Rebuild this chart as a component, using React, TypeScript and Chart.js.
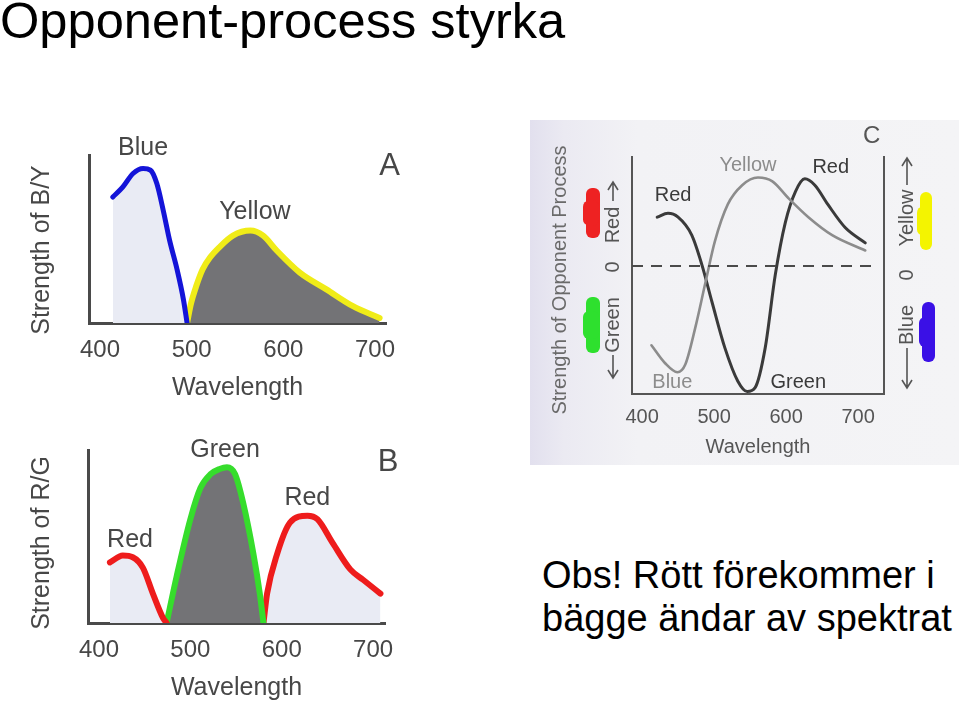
import React, { useEffect, useRef } from 'react';
import { Chart, registerables } from 'chart.js';

Chart.register(...registerables);

const FONT = "'Liberation Sans', Arial, Helvetica, sans-serif";

// ---------- Data ----------
const wavelengthTicks = [400, 500, 600, 700];

// Panel A: Blue / Yellow
const blueA_x = [414, 425, 436, 447, 455, 462, 469, 476, 484, 491, 495];
const blueA_y = [75, 81, 89, 92, 91, 83, 67, 49, 32, 14, 0];
const yellowA_x = [495, 499, 505, 512, 520, 530, 545, 564, 578, 593, 618, 647, 676, 705];
const yellowA_y = [0, 11, 22, 32, 39, 45, 52, 55, 52, 43, 30, 20, 10, 3];

// Panel B: Red / Green / Red
const red1B_x = [412, 426, 437, 448, 459, 470, 474];
const red1B_y = [35, 39, 38, 32, 17, 3, 0];
const greenB_x = [474, 485, 500, 511, 522, 532, 540, 549, 558, 569, 576, 580];
const greenB_y = [0, 27, 60, 78, 86, 89, 90, 86, 69, 40, 17, 0];
const red2B_x = [580, 584, 595, 609, 628, 639, 656, 675, 689, 708];
const red2B_y = [0, 17, 40, 58, 62, 60, 46, 31, 25, 17];

// Panel C: opponent process curves
const redGreenC_x = [421, 436, 450, 469, 483, 497, 515, 533, 546, 557, 571, 585, 599, 613, 626, 640, 658, 682, 710];
const redGreenC_y = [38, 41, 38, 24, 1, -28, -64, -90, -98, -95, -64, -7, 34, 58, 68, 63, 48, 30, 18];
const yellowBlueC_x = [413, 432, 449, 460, 474, 488, 501, 519, 539, 561, 581, 603, 631, 664, 710];
const yellowBlueC_y = [-62, -76, -83, -77, -48, -13, 19, 48, 63, 69, 66, 53, 38, 24, 12];
const zeroC_x = [386, 721];
const zeroC_y = [0, 0];

const pts = (xs: number[], ys: number[]) => xs.map((x, i) => ({ x, y: ys[i] }));

// ---------- Helpers ----------
type TextItem = {
  text: string;
  x: number;
  y: number;
  size: number;
  color: string;
  data?: boolean;
  rot?: number;
};

function textPlugin(items: TextItem[]) {
  return {
    id: 'panelText',
    afterDraw(chart: any) {
      const ctx = chart.ctx;
      const sx = chart.scales.x;
      const sy = chart.scales.y;
      for (const it of items) {
        ctx.save();
        ctx.font = `${it.size}px ${FONT}`;
        ctx.fillStyle = it.color;
        ctx.textAlign = 'center';
        ctx.textBaseline = 'middle';
        const px = it.data ? sx.getPixelForValue(it.x) : it.x;
        const py = it.data ? sy.getPixelForValue(it.y) : it.y;
        ctx.translate(px, py);
        if (it.rot) ctx.rotate(it.rot);
        ctx.fillText(it.text, 0, 0);
        ctx.restore();
      }
    },
  };
}

function lineDs(data: any[], color: string, width: number, fillColor?: string, extra: any = {}) {
  return {
    data,
    borderColor: color,
    borderWidth: width,
    backgroundColor: fillColor || 'transparent',
    fill: fillColor ? 'origin' : false,
    pointRadius: 0,
    cubicInterpolationMode: 'monotone',
    borderCapStyle: 'round',
    borderJoinStyle: 'round',
    ...extra,
  };
}

function panelOptions(p: {
  xmin: number; xmax: number; ymin: number; ymax: number;
  yWidth: number; xHeight: number; padRight: number; padTop: number;
  tickSize: number; tickPad: number; tickColor: string;
  titleSize: number; titlePad: number; axisColor: string; axisWidth: number;
  y2Width?: number;
}) {
  const scales: any = {
    x: {
      type: 'linear',
      min: p.xmin,
      max: p.xmax,
      afterBuildTicks: (s: any) => { s.ticks = wavelengthTicks.map((v) => ({ value: v })); },
      afterFit: (s: any) => { s.height = p.xHeight; },
      grid: { display: false, drawTicks: false },
      border: { display: true, color: p.axisColor, width: p.axisWidth },
      ticks: {
        color: p.tickColor,
        padding: p.tickPad,
        maxRotation: 0,
        autoSkip: false,
        font: { family: FONT, size: p.tickSize },
        callback: (v: any) => String(v),
      },
      title: {
        display: true,
        text: 'Wavelength',
        color: p.tickColor,
        font: { family: FONT, size: p.titleSize },
        padding: { top: 0, bottom: p.titlePad },
      },
    },
    y: {
      type: 'linear',
      min: p.ymin,
      max: p.ymax,
      afterFit: (s: any) => { s.width = p.yWidth; },
      grid: { display: false, drawTicks: false },
      border: { display: true, color: p.axisColor, width: p.axisWidth },
      ticks: { display: false },
    },
  };
  if (p.y2Width) {
    scales.y2 = {
      type: 'linear',
      position: 'right',
      display: true,
      min: p.ymin,
      max: p.ymax,
      afterFit: (s: any) => { s.width = p.y2Width; },
      grid: { display: false, drawTicks: false },
      border: { display: true, color: p.axisColor, width: p.axisWidth },
      ticks: { display: false },
    };
  }
  return {
    responsive: false,
    animation: false,
    devicePixelRatio: 1,
    layout: { autoPadding: false, padding: { left: 0, right: p.padRight, top: p.padTop, bottom: 0 } },
    plugins: { legend: { display: false }, tooltip: { enabled: false }, title: { display: false } },
    scales,
  };
}

const LABEL_AB = '#474747';
const AXIS_AB = '#4a4a4a';

function configA() {
  return {
    type: 'line',
    data: {
      datasets: [
        lineDs(pts(blueA_x, blueA_y), '#1414d8', 5, '#e9ebf4'),
        lineDs(pts(yellowA_x, yellowA_y), '#f0ec18', 6, '#737376'),
      ],
    },
    options: panelOptions({
      xmin: 388, xmax: 712, ymin: 0, ymax: 100,
      yWidth: 89, xHeight: 87, padRight: 34, padTop: 35,
      tickSize: 24, tickPad: 13, tickColor: LABEL_AB,
      titleSize: 25, titlePad: 7, axisColor: AXIS_AB, axisWidth: 3,
    }),
    plugins: [
      textPlugin([
        { text: 'Blue', x: 447, y: 104, size: 25, color: LABEL_AB, data: true },
        { text: 'Yellow', x: 569, y: 66, size: 25, color: LABEL_AB, data: true },
        { text: 'A', x: 716, y: 93, size: 31, color: LABEL_AB, data: true },
        { text: 'Strength of B/Y', x: 42, y: 130, size: 25, color: LABEL_AB, rot: -Math.PI / 2 },
      ]),
    ],
  };
}

function configB() {
  return {
    type: 'line',
    data: {
      datasets: [
        lineDs(pts(red1B_x, red1B_y), '#ee1c1c', 6, '#e9ebf4'),
        lineDs(pts(greenB_x, greenB_y), '#36dd2c', 6, '#737376'),
        lineDs(pts(red2B_x, red2B_y), '#ee1c1c', 6, '#e9ebf4'),
      ],
    },
    options: panelOptions({
      xmin: 388, xmax: 713, ymin: 0, ymax: 100,
      yWidth: 88, xHeight: 85, padRight: 35, padTop: 30,
      tickSize: 24, tickPad: 13, tickColor: LABEL_AB,
      titleSize: 25, titlePad: 5, axisColor: AXIS_AB, axisWidth: 3,
    }),
    plugins: [
      textPlugin([
        { text: 'Red', x: 434, y: 48, size: 25, color: LABEL_AB, data: true },
        { text: 'Green', x: 538, y: 100, size: 25, color: LABEL_AB, data: true },
        { text: 'Red', x: 628, y: 72, size: 25, color: LABEL_AB, data: true },
        { text: 'B', x: 716.5, y: 93, size: 31, color: LABEL_AB, data: true },
        { text: 'Strength of R/G', x: 42, y: 123, size: 25, color: LABEL_AB, rot: -Math.PI / 2 },
      ]),
    ],
  };
}

const decorC = {
  id: 'decorC',
  afterDraw(chart: any) {
    const ctx = chart.ctx;
    const arrow = (x: number, y1: number, y2: number) => {
      const dir = y2 < y1 ? -1 : 1;
      ctx.save();
      ctx.strokeStyle = '#555';
      ctx.lineWidth = 1.6;
      ctx.beginPath();
      ctx.moveTo(x, y1);
      ctx.lineTo(x, y2);
      ctx.moveTo(x - 5, y2 - dir * 8);
      ctx.lineTo(x, y2);
      ctx.lineTo(x + 5, y2 - dir * 8);
      ctx.stroke();
      ctx.restore();
    };
    const blob = (x: number, y: number, w: number, h: number, color: string) => {
      ctx.save();
      ctx.fillStyle = color;
      ctx.beginPath();
      ctx.roundRect(x, y, w, h, 6);
      ctx.fill();
      ctx.beginPath();
      ctx.roundRect(x - 3, y + h * 0.25, w + 2, h * 0.5, 6);
      ctx.fill();
      ctx.restore();
    };
    arrow(83, 81, 62);
    arrow(83, 235, 258);
    arrow(377, 65, 38);
    arrow(377, 228, 268);
    blob(56, 68, 14, 50, '#ee2222');
    blob(56, 177, 14, 56, '#2ee02e');
    blob(390, 72, 12, 58, '#f4f400');
    blob(392, 182, 13, 60, '#3a10e6');
  },
};

const DARK_C = '#3a3a3a';
const LIGHT_C = '#8c8c8c';

function configC() {
  const up = -Math.PI / 2;
  return {
    type: 'line',
    data: {
      datasets: [
        lineDs(pts(zeroC_x, zeroC_y), '#4a4a4a', 2, undefined, { borderDash: [11, 8], borderCapStyle: 'butt', cubicInterpolationMode: 'default', tension: 0 }),
        lineDs(pts(yellowBlueC_x, yellowBlueC_y), LIGHT_C, 2.6),
        lineDs(pts(redGreenC_x, redGreenC_y), DARK_C, 3),
      ],
    },
    options: panelOptions({
      xmin: 386, xmax: 736, ymin: -100, ymax: 85,
      yWidth: 102, xHeight: 71, padRight: 0, padTop: 37,
      tickSize: 20, tickPad: 11, tickColor: '#555',
      titleSize: 20, titlePad: 6, axisColor: '#555', axisWidth: 2, y2Width: 75,
    }),
    plugins: [
      decorC,
      textPlugin([
        { text: 'Red', x: 443, y: 55, size: 20, color: DARK_C, data: true },
        { text: 'Yellow', x: 547, y: 78, size: 20, color: LIGHT_C, data: true },
        { text: 'Red', x: 662, y: 77, size: 20, color: DARK_C, data: true },
        { text: 'Blue', x: 442, y: -91, size: 20, color: LIGHT_C, data: true },
        { text: 'Green', x: 617, y: -91, size: 20, color: DARK_C, data: true },
        { text: 'C', x: 719, y: 101, size: 24, color: '#555', data: true },
        { text: 'Strength of Opponent Process', x: 30, y: 160, size: 20, color: '#6a6a6a', rot: up },
        { text: 'Red', x: 83, y: 105, size: 20, color: '#555', rot: up },
        { text: '0', x: 83, y: 147, size: 20, color: '#555', rot: up },
        { text: 'Green', x: 83, y: 205, size: 20, color: '#555', rot: up },
        { text: 'Yellow', x: 377, y: 98, size: 20, color: '#555', rot: up },
        { text: '0', x: 377, y: 155, size: 20, color: '#555', rot: up },
        { text: 'Blue', x: 377, y: 205, size: 20, color: '#555', rot: up },
      ]),
    ],
  };
}

function ChartCanvas(props: { make: () => any; left: number; top: number; width: number; height: number; bg?: string }) {
  const ref = useRef<HTMLCanvasElement>(null);
  useEffect(() => {
    const chart = new Chart(ref.current as HTMLCanvasElement, props.make());
    return () => chart.destroy();
  }, []);
  return (
    <canvas
      ref={ref}
      width={props.width}
      height={props.height}
      style={{
        position: 'absolute',
        left: props.left,
        top: props.top,
        width: props.width,
        height: props.height,
        background: props.bg || 'transparent',
        display: 'block',
      }}
    />
  );
}

export default function App() {
  return (
    <div
      style={{
        position: 'absolute',
        left: 0,
        top: 0,
        width: 959,
        height: 708,
        background: '#ffffff',
        overflow: 'hidden',
        fontFamily: FONT,
      }}
    >
      <div
        style={{
          position: 'absolute',
          left: 0,
          top: -4,
          fontSize: 50.6,
          lineHeight: '50px',
          color: '#000',
          whiteSpace: 'nowrap',
        }}
      >
        Opponent-process styrka
      </div>
      <ChartCanvas make={configA} left={0} top={120} width={420} height={290} />
      <ChartCanvas make={configB} left={0} top={420} width={420} height={288} />
      <ChartCanvas
        make={configC}
        left={530}
        top={120}
        width={429}
        height={345}
        bg="linear-gradient(to right, #e2e0ee 0%, #ebeaf2 8%, #f2f2f5 25%, #f4f4f6 100%)"
      />
      <div
        style={{
          position: 'absolute',
          left: 542,
          top: 554,
          fontSize: 38,
          lineHeight: '43px',
          color: '#000',
          whiteSpace: 'nowrap',
        }}
      >
        Obs! Rött förekommer i
        <br />
        bägge ändar av spektrat
      </div>
    </div>
  );
}
